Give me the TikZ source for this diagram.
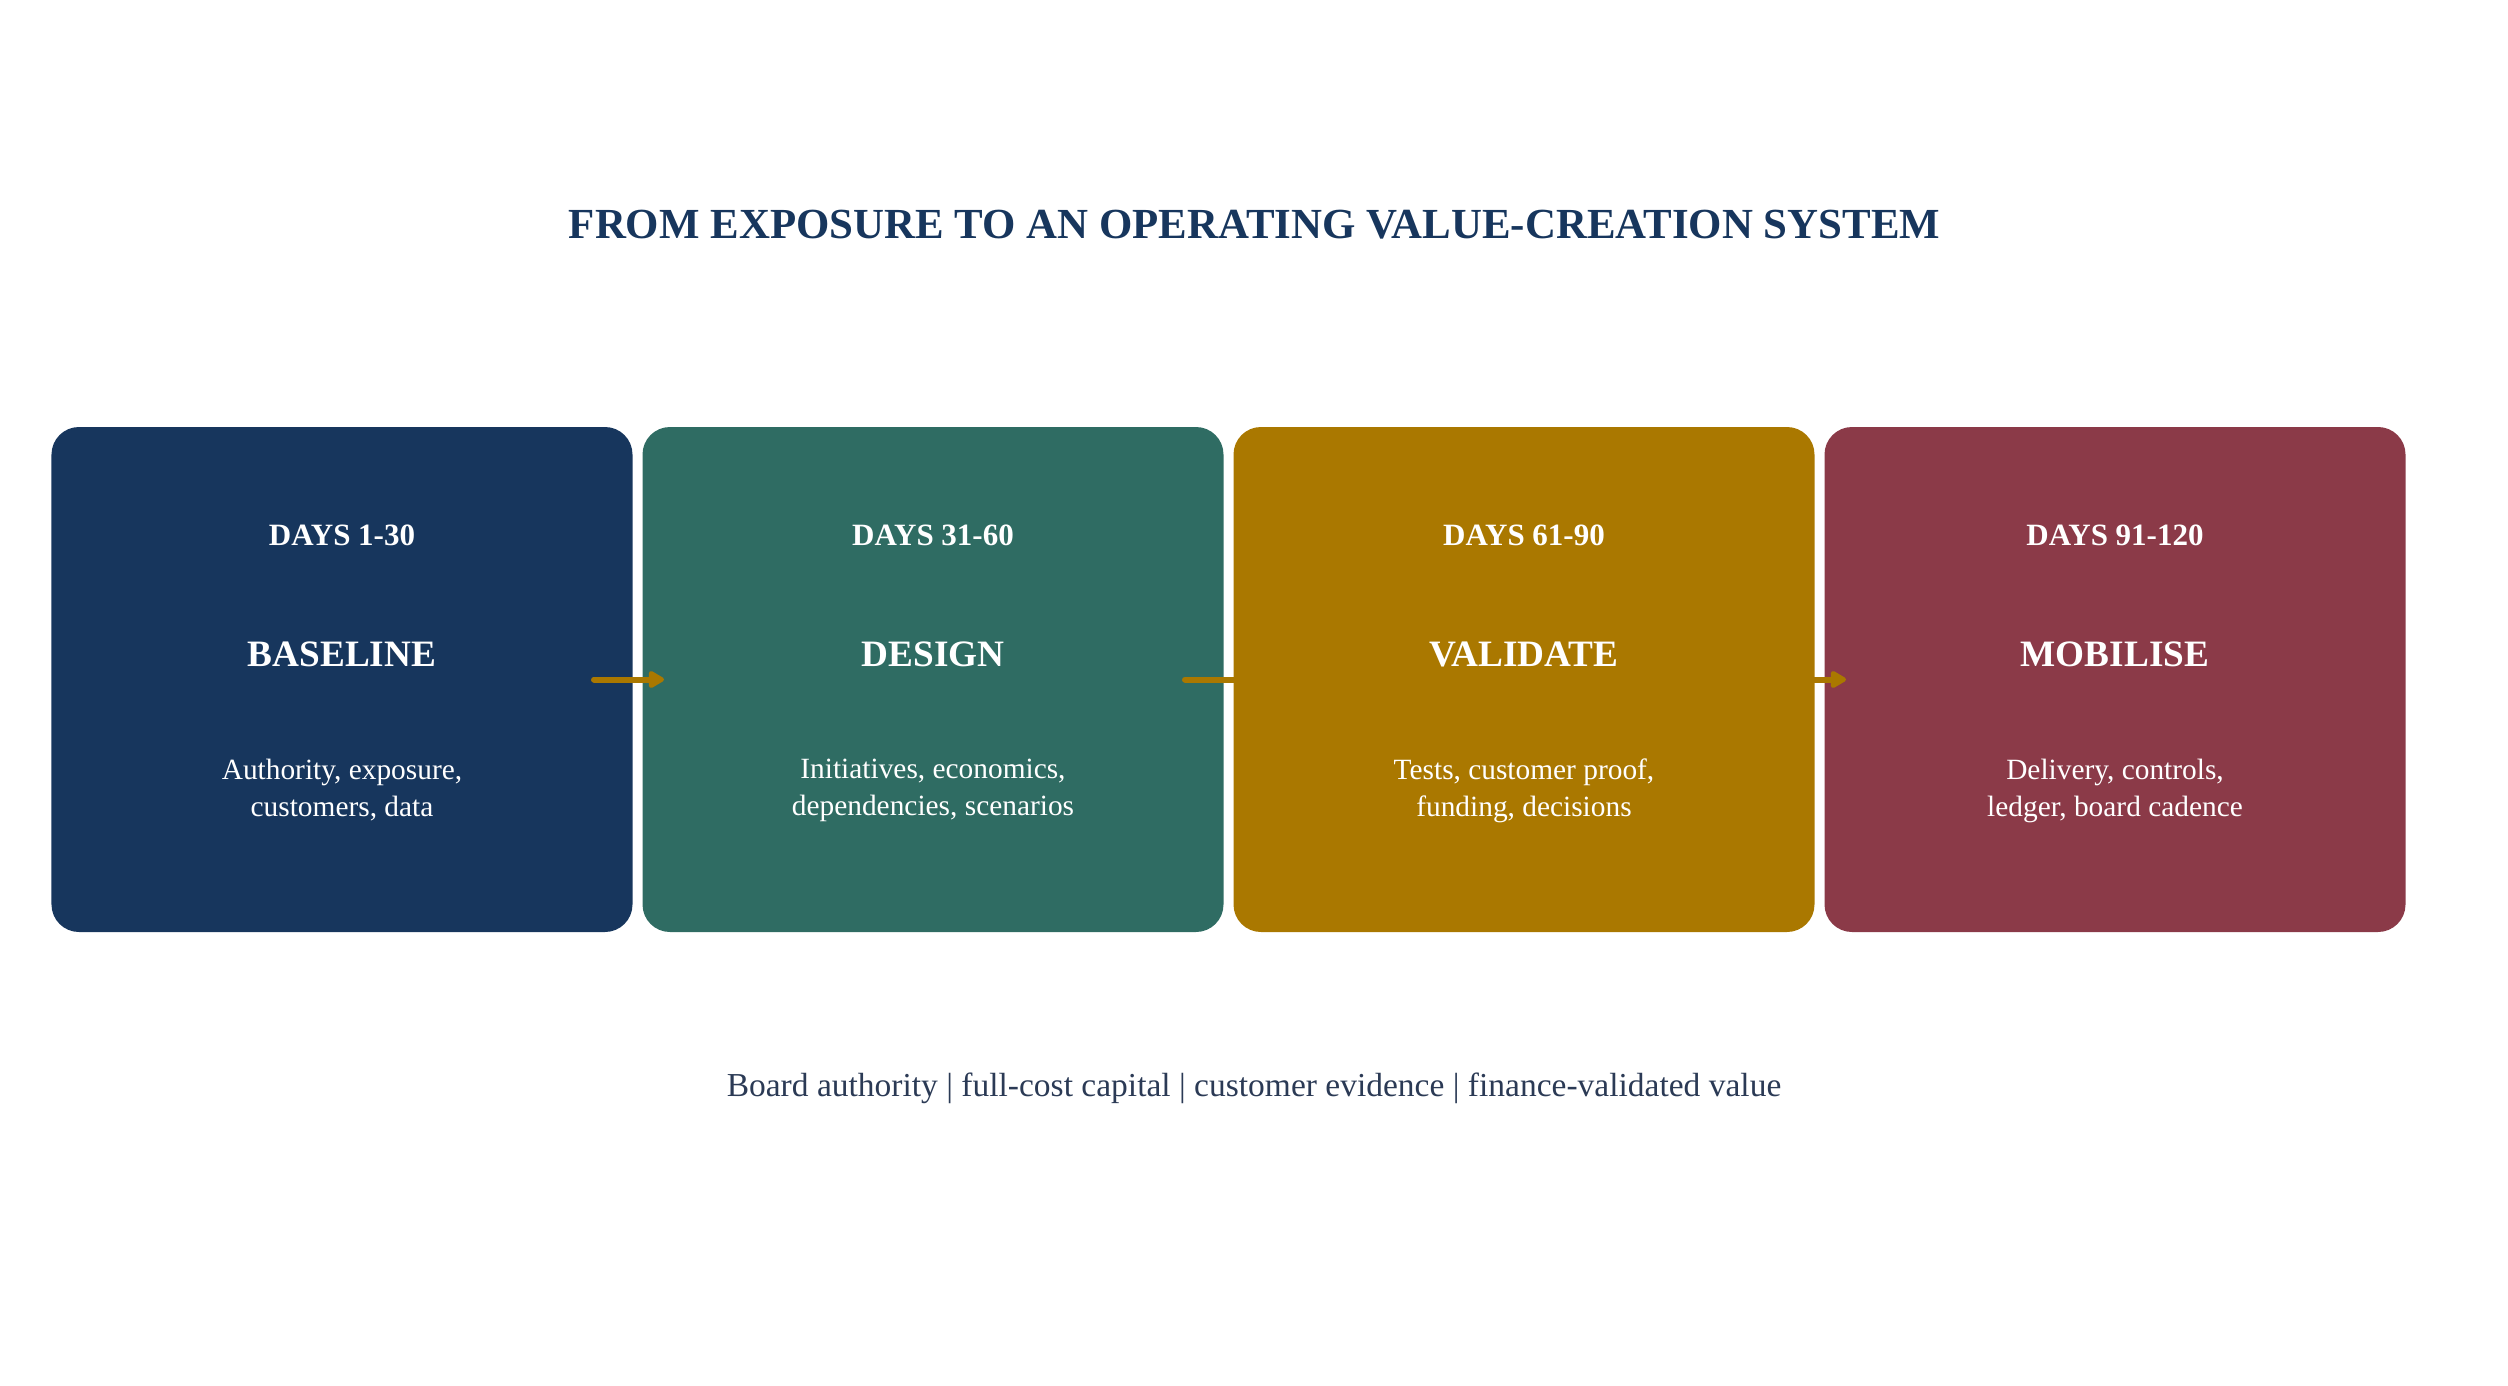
\documentclass[tikz,border=0pt]{standalone}
\usepackage{fontspec}
\setmainfont{Liberation Serif}
\usetikzlibrary{arrows.meta}
\definecolor{cnavy}{HTML}{17365D}
\definecolor{cteal}{HTML}{2F6C63}
\definecolor{cgold}{HTML}{AA7800}
\definecolor{cmaroon}{HTML}{8B3A48}
\definecolor{cfoot}{HTML}{2B3A55}
\tikzset{
  phasebox/.style={minimum width=232.4pt,minimum height=202pt,inner sep=0pt,rounded corners=11pt,draw=none},
  daystxt/.style={anchor=base,text=white,inner sep=0pt,font=\bfseries\fontsize{12.4}{14}\selectfont},
  phasetxt/.style={anchor=base,text=white,inner sep=0pt,font=\bfseries\fontsize{14.9}{17}\selectfont},
  desctxt/.style={anchor=center,text=white,inner sep=0pt,align=center,font=\fontsize{11.75}{14.8}\selectfont},
  flowarrow/.style={draw=cgold,line width=2.4pt,line cap=round,-{Triangle[length=7pt,width=7.6pt,round]}}
}
\begin{document}
\begin{tikzpicture}[x=0.4pt,y=-0.4pt]
\useasboundingbox (0,0) rectangle (2508,1386);
\node[anchor=base,inner sep=0pt,text=cnavy,font=\bfseries\fontsize{17.15}{20}\selectfont] (title) at (1254.5,238) {FROM EXPOSURE TO AN OPERATING VALUE-CREATION SYSTEM};
\node[phasebox,fill=cnavy] (b1) at (342,679.5) {};
\node[phasebox,fill=cteal] (b2) at (933,679.5) {};
\node[phasebox,fill=cgold] (b3) at (1524,679.5) {};
\node[phasebox,fill=cmaroon] (b4) at (2115,679.5) {};
\node[daystxt] (d1) at (342,545) {DAYS 1-30};
\node[daystxt] (d2) at (933,545) {DAYS 31-60};
\node[daystxt] (d3) at (1524,545) {DAYS 61-90};
\node[daystxt] (d4) at (2115,545) {DAYS 91-120};
\node[phasetxt] (p1) at (342,666) {BASELINE};
\node[phasetxt] (p2) at (933,666) {DESIGN};
\node[phasetxt] (p3) at (1524,666) {VALIDATE};
\node[phasetxt] (p4) at (2115,666) {MOBILISE};
\node[desctxt] (t1) at (342,790.5) {Authority, exposure,\\customers, data};
\node[desctxt] (t2) at (933,790.5) {Initiatives, economics,\\dependencies, scenarios};
\node[desctxt] (t3) at (1524,790.5) {Tests, customer proof,\\funding, decisions};
\node[desctxt] (t4) at (2115,790.5) {Delivery, controls,\\ledger, board cadence};
\draw[flowarrow] ([xshift=-15.6pt]b1.east) -- ([xshift=8.8pt]b2.west);
\draw[flowarrow] ([xshift=-15.6pt]b2.east) -- ([xshift=8.8pt]b3.west);
\draw[flowarrow] ([xshift=-15.6pt]b3.east) -- ([xshift=8.8pt]b4.west);
\node[anchor=base,inner sep=0pt,text=cfoot,font=\fontsize{13.4}{16}\selectfont] (foot) at (1254,1096) {Board authority | full-cost capital | customer evidence | finance-validated value};
\end{tikzpicture}
\end{document}
